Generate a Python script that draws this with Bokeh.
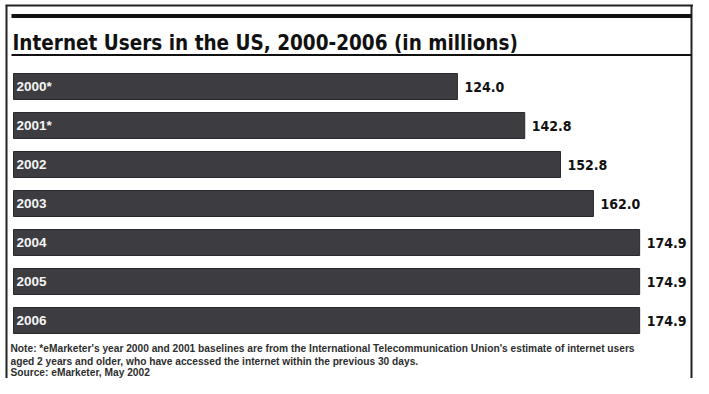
from bokeh.plotting import figure
from bokeh.models import Range1d, ColumnDataSource
from bokeh.core.properties import value
from bokeh.embed import file_html
from bokeh.resources import INLINE

# ---- data ----
years = ["2000*", "2001*", "2002", "2003", "2004", "2005", "2006"]
users = [124.0, 142.8, 152.8, 162.0, 174.9, 174.9, 174.9]
value_labels = ["124.0", "142.8", "152.8", "162.0", "174.9", "174.9", "174.9"]
title_text = "Internet Users in the US, 2000-2006 (in millions)"
note_line1 = ("Note: *eMarketer's year 2000 and 2001 baselines are from the International "
              "Telecommunication Union's estimate of internet users")
note_line2 = "aged 2 years and older, who have accessed the internet within the previous 30 days."
source_text = "Source: eMarketer, May 2002"

W, H = 693, 378
PX_PER_UNIT = 3.58       # horizontal scale (px per million)
X_ZERO_PX = 13           # px where value 0 sits
ROW_PX = 39              # px per category row
ROW0_PX = 86             # px (from top) of first row centre

x0 = -X_ZERO_PX / PX_PER_UNIT
x1 = x0 + W / PX_PER_UNIT
ytop = -ROW0_PX / ROW_PX
ybot = ytop + H / ROW_PX

COND = value("'DejaVu Sans Condensed', 'Liberation Sans', sans-serif")
SANS = value("Liberation Sans")

p = figure(width=W, height=H, output_backend="svg", toolbar_location=None,
           x_range=Range1d(x0, x1), y_range=Range1d(ybot, ytop),
           x_axis_location=None, y_axis_location=None, min_border=0,
           background_fill_color="white", border_fill_color="white")
p.grid.visible = False
p.outline_line_color = None


def dx(px):
    return x0 + px / PX_PER_UNIT


def dy(py):
    return ytop + py / ROW_PX


idx = list(range(len(years)))
src = ColumnDataSource(dict(y=idx, right=users, year=years, lab=value_labels))

# bars
p.hbar(y="y", left=0, right="right", height=26 / ROW_PX, source=src,
       fill_color="#3d3d41", line_color="#2a2a2e", line_width=1)

# year labels inside the bars
p.text(x=0, y="y", text="year", source=src, x_offset=3,
       text_color="#f4f4f4", text_font=SANS, text_font_style="bold",
       text_font_size="13.5px", text_baseline="middle", text_align="left")

# value labels
p.text(x="right", y="y", text="lab", source=src, x_offset=7,
       text_color="#111111", text_font=COND, text_font_style="bold",
       text_font_size="14px", text_baseline="middle", text_align="left")

# frame lines
p.segment(x0=[dx(5), dx(6), dx(691)], y0=[dy(5), dy(5), dy(5)],
          x1=[dx(693), dx(6), dx(691)], y1=[dy(5), dy(378), dy(378)],
          line_color="#222222", line_width=2)
p.segment(x0=[dx(11)], y0=[dy(15.5)], x1=[dx(691)], y1=[dy(15.5)],
          line_color="#111111", line_width=4)
p.segment(x0=[dx(11)], y0=[dy(54.5)], x1=[dx(691)], y1=[dy(54.5)],
          line_color="#111111", line_width=2)

# title
p.text(x=[dx(12)], y=[dy(42)], text=[title_text],
       text_color="#111111", text_font=COND, text_font_style="bold",
       text_font_size="20.5px", text_baseline="alphabetic", text_align="left")

# notes
p.text(x=[dx(10), dx(10)], y=[dy(348), dy(361)], text=[note_line1, note_line2],
       text_color="#2e2e2e", text_font=SANS, text_font_style="bold",
       text_font_size="10.2px", text_baseline="middle", text_align="left")
p.text(x=[dx(10)], y=[dy(372)], text=[source_text],
       text_color="#2e2e2e", text_font=SANS, text_font_style="bold",
       text_font_size="10.2px", text_baseline="middle", text_align="left")

open("out.html", "w").write(file_html(p, INLINE))
